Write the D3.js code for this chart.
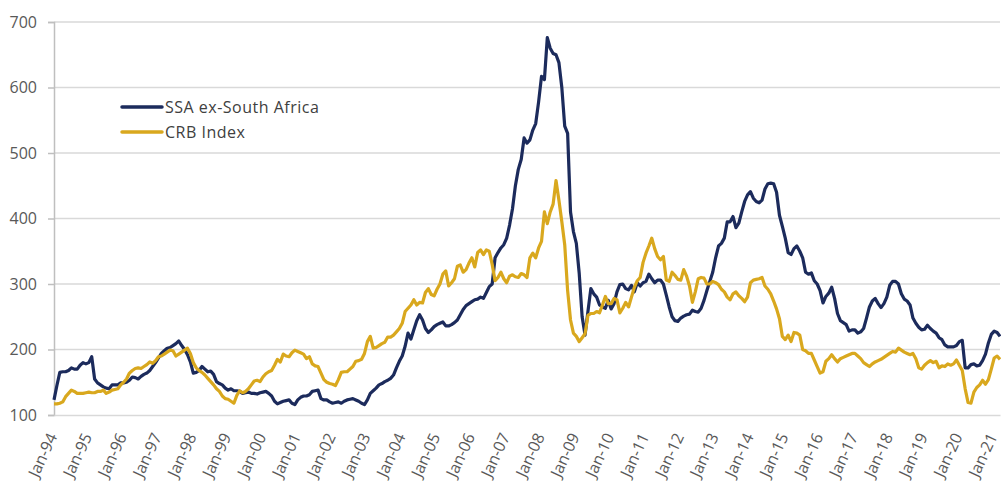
<!DOCTYPE html>
<html>
<head>
<meta charset="utf-8">
<script src="https://cdn.jsdelivr.net/npm/d3@7"></script>
<style>
  html, body { margin: 0; padding: 0; background: #ffffff; }
  svg { display: block; }
  text { font-family: "Open Sans", "Noto Sans", sans-serif; }
</style>
</head>
<body>
<svg id="chart" width="1001" height="481"></svg>
<script>
// Monthly series, Jan-94 .. Mar-21
const seriesNames = ["SSA ex-South Africa", "CRB Index"];
const ssa = [
  123,145,165,166,166,168,172,170,170,176,180,178, // 1994
  180,189,155,149,146,143,141,140,146,146,146,149, // 1995
  149,150,153,158,157,155,159,162,164,168,174,180, // 1996
  187,194,198,202,203,206,209,213,206,200,192,181, // 1997
  164,165,168,174,170,166,167,162,151,148,146,141, // 1998
  138,140,137,137,136,133,134,135,133,133,132,134, // 1999
  135,136,133,129,121,117,119,121,122,123,118,116, // 2000
  123,127,129,129,131,136,137,138,125,123,123,120, // 2001
  118,119,120,118,121,123,124,125,123,121,118,116, // 2002
  123,133,137,141,146,148,151,153,156,161,172,182, // 2003
  190,205,225,216,230,244,253,245,232,226,230,235, // 2004
  238,240,242,236,236,238,241,245,253,261,267,270, // 2005
  273,276,277,280,278,287,296,300,340,348,355,360, // 2006
  370,390,415,450,475,490,523,515,520,535,545,578, // 2007
  617,612,676,660,652,650,638,600,541,530,410,380, // 2008
  362,316,250,222,258,293,285,280,268,265,263,275, // 2009
  262,270,288,299,300,293,291,298,288,302,297,302, // 2010
  304,315,308,302,306,306,300,283,265,250,244,243, // 2011
  248,251,253,254,260,258,257,263,275,290,304,318, // 2012
  340,358,362,370,395,395,403,386,393,410,426,436, // 2013
  441,431,426,424,428,445,453,454,453,440,405,388, // 2014
  370,348,345,354,358,350,340,318,315,317,305,300, // 2015
  290,271,281,286,295,278,255,244,241,238,228,230, // 2016
  230,225,227,232,248,265,274,278,270,264,270,280, // 2017
  298,304,304,300,285,277,274,268,248,240,234,230, // 2018
  231,237,232,228,225,218,215,207,204,204,204,206, // 2019
  212,214,172,172,177,178,175,176,183,193,210,223, // 2020
  228,226,220                                      // 2021
];
const crb = [
  117,117,118,120,128,133,138,136,133,133,133,134, // 1994
  135,134,134,136,136,138,133,135,138,139,140,146, // 1995
  150,155,164,168,171,172,171,174,177,181,179,183, // 1996
  189,190,193,196,199,198,190,193,196,199,202,194, // 1997
  180,172,168,165,161,156,151,146,140,136,129,125, // 1998
  124,121,118,130,137,134,136,140,146,152,153,151, // 1999
  158,163,166,168,176,185,181,193,190,189,195,199, // 2000
  197,195,193,186,189,178,175,174,164,154,150,148, // 2001
  147,145,154,165,166,166,170,174,182,183,185,194, // 2002
  212,220,202,203,206,209,211,219,219,222,227,232, // 2003
  240,258,263,268,276,268,272,271,287,293,284,282, // 2004
  292,300,315,320,297,302,308,327,329,318,322,332, // 2005
  340,326,348,352,345,352,350,330,305,310,318,308, // 2006
  302,312,314,311,310,316,314,310,340,347,340,355, // 2007
  365,410,392,410,422,458,428,395,360,290,245,225, // 2008
  220,212,218,224,252,255,255,258,256,268,281,270, // 2009
  270,278,276,256,263,272,265,280,295,305,310,333, // 2010
  347,358,370,354,342,337,342,306,304,318,313,307, // 2011
  306,322,312,297,272,288,308,310,309,300,300,304, // 2012
  302,299,292,288,280,276,285,288,282,278,273,280, // 2013
  302,306,307,308,310,297,292,285,274,262,247,220, // 2014
  215,222,212,226,225,222,200,198,194,194,184,174, // 2015
  164,166,182,186,192,186,181,186,188,190,192,194, // 2016
  194,190,186,180,177,174,178,181,183,185,188,191, // 2017
  194,197,196,202,199,196,194,192,194,186,172,170, // 2018
  176,180,183,180,182,172,175,174,178,176,178,184, // 2019
  176,168,140,119,118,135,142,146,153,147,154,170, // 2020
  187,190,185                                      // 2021
];
const xTickLabels = ["Jan-94","Jan-95","Jan-96","Jan-97","Jan-98","Jan-99","Jan-00","Jan-01","Jan-02",
  "Jan-03","Jan-04","Jan-05","Jan-06","Jan-07","Jan-08","Jan-09","Jan-10","Jan-11","Jan-12","Jan-13",
  "Jan-14","Jan-15","Jan-16","Jan-17","Jan-18","Jan-19","Jan-20","Jan-21"];
const yTicks = [100, 200, 300, 400, 500, 600, 700];

const colors = ["#1c2b5c", "#d9a81e"];
const svg = d3.select("#chart");

const x = d3.scaleLinear().domain([0, ssa.length - 1]).range([54, 1000]);
const y = d3.scaleLinear().domain([100, 700]).range([415, 22]);

// gridlines
svg.append("g").selectAll("line").data(yTicks.filter(d => d > 100)).join("line")
  .attr("x1", 54).attr("x2", 1000)
  .attr("y1", d => y(d)).attr("y2", d => y(d))
  .attr("stroke", "#d9d9d9").attr("stroke-width", 1.5);

// y axis
const yAxis = d3.axisLeft(y).tickValues(yTicks).tickSize(6).tickPadding(11).tickFormat(d3.format("d"));
const gy = svg.append("g").attr("transform", "translate(54,0)").call(yAxis);
gy.select(".domain").attr("stroke", "#bfbfbf").attr("stroke-width", 1.5);
gy.selectAll(".tick line").attr("stroke", "#bfbfbf").attr("stroke-width", 1.5);
gy.selectAll(".tick text").attr("fill", "#595959").style("font-size", "16px")
  .style("font-family", "'Open Sans', sans-serif");

// x axis
const xAxis = d3.axisBottom(x).tickValues(xTickLabels.map((d, i) => i * 12))
  .tickSize(0).tickFormat((d, i) => xTickLabels[i]);
const gx = svg.append("g").attr("transform", "translate(0,415)").call(xAxis);
gx.select(".domain").attr("stroke", "#d9d9d9").attr("stroke-width", 1.5);
gx.selectAll(".tick text")
  .attr("fill", "#595959").style("font-size", "16px")
  .style("font-family", "'Open Sans', sans-serif")
  .attr("text-anchor", "end")
  .attr("dy", "0.35em")
  .attr("y", 0)
  .attr("transform", "translate(-2,19) rotate(-65)");

// lines
const line = d3.line().x((d, i) => x(i)).y(d => y(d));
[ssa, crb].forEach((s, k) => {
  svg.append("path").datum(s)
    .attr("fill", "none").attr("stroke", colors[k]).attr("stroke-width", 3.2)
    .attr("stroke-linejoin", "round").attr("d", line);
});

// legend
const lg = svg.append("g");
seriesNames.forEach((n, k) => {
  const yy = 107 + k * 25;
  lg.append("line").attr("x1", 122).attr("x2", 162).attr("y1", yy).attr("y2", yy)
    .attr("stroke", colors[k]).attr("stroke-width", 3.5).attr("stroke-linecap", "round");
  lg.append("text").attr("x", 165).attr("y", yy).attr("dy", "0.35em")
    .attr("fill", "#404040").style("font-size", "16px").style("letter-spacing", "0.5px").text(n);
});
</script>
</body>
</html>
